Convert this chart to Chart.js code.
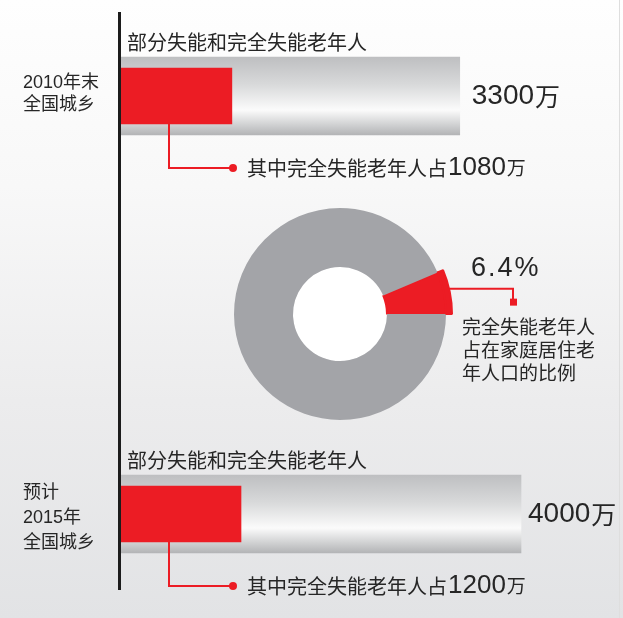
<!DOCTYPE html>
<html>
<head>
<meta charset="utf-8">
<script src="https://cdn.jsdelivr.net/npm/chart.js@4.4.0/dist/chart.umd.min.js"></script>
<style>
html, body { margin: 0; padding: 0; }
body {
    width: 623px; height: 618px; position: relative; overflow: hidden;
    background: linear-gradient(to bottom, #fefefe 0%, #f8f8f8 30%, #ececed 65%, #e2e3e5 100%);
}
canvas { position: absolute; }
#axis { position: absolute; left: 118px; top: 12px; width: 3px; height: 578px; background: #1c1c1c; }
#edge { position: absolute; left: 619px; top: 0; width: 1px; height: 618px; background: #dedede; }
</style>
</head>
<body>
<canvas id="topBars" width="623" height="200" style="left:0;top:0;width:623px;height:200px"></canvas>
<canvas id="ring" width="423" height="250" style="left:200px;top:190px;width:423px;height:250px"></canvas>
<canvas id="bottomBars" width="623" height="188" style="left:0;top:430px;width:623px;height:188px"></canvas>
<div id="axis"></div>
<div id="edge"></div>
<script>
// 单位：万人
var groups = ['2010年末全国城乡', '预计2015年全国城乡'];
var groupLines = [['2010年末', '全国城乡'], ['预计', '2015年', '全国城乡']];
var totalDisabled = [3300, 4000];   // 部分失能和完全失能老年人
var fullyDisabled = [1080, 1200];   // 其中完全失能老年人
var shareLabels = ['完全失能老年人', '其他'];
var shareValues = [6.4, 93.6];      // 占在家庭居住老年人口的比例 (%)

var RED = '#ec1c24';
var INK = '#262626';
var CJK = '"Noto Sans CJK SC", "Noto Sans", sans-serif';
var NUM = '"Liberation Sans", Arial, sans-serif';

function greyFill(ctx) {
    var area = ctx.chart.chartArea;
    if (!area) return '#c8c8c8';
    var mid = (area.top + area.bottom) / 2;
    var g = ctx.chart.ctx.createLinearGradient(0, mid - 39, 0, mid + 39);
    g.addColorStop(0, '#bebfc1');
    g.addColorStop(0.35, '#d8d9da');
    g.addColorStop(0.68, '#fbfbfb');
    g.addColorStop(0.86, '#d2d3d4');
    g.addColorStop(1, '#b3b4b6');
    return g;
}

function runs(c, x, y, parts) {
    parts.forEach(function (p) {
        c.font = p[1];
        c.fillText(p[0], x, y);
        x += c.measureText(p[0]).width + (p[2] || 0);
    });
}

var barNotes = {
    id: 'barNotes',
    afterDatasetsDraw: function (chart, args, o) {
        var c = chart.ctx;
        var i = o.index;
        var grey = chart.getDatasetMeta(0).data[0];
        var red = chart.getDatasetMeta(1).data[0];
        c.save();
        c.fillStyle = INK;
        c.textBaseline = 'middle';

        // title above the bar
        c.font = '20px ' + CJK;
        c.fillText('部分失能和完全失能老年人', 127, grey.y - 54);

        // group label on the left
        c.font = '18px "Liberation Sans", ' + CJK;
        var lines = groupLines[i];
        var y0 = grey.y + o.labelDy - (lines.length - 1) * o.lineH / 2;
        lines.forEach(function (t, k) { c.fillText(t, 23, y0 + k * o.lineH); });

        // total at the end of the grey bar
        runs(c, grey.x + o.valueGap, grey.y, [
            [String(totalDisabled[i]), '28px ' + NUM, 1],
            ['万', '25px ' + CJK]
        ]);

        // red connector from the red bar
        var bx = red.base + 48;
        var by = red.y + red.height / 2;
        var ly = by + 44;
        c.strokeStyle = RED;
        c.lineWidth = 2;
        c.beginPath();
        c.moveTo(bx, by);
        c.lineTo(bx, ly);
        c.lineTo(red.base + 112, ly);
        c.stroke();
        c.fillStyle = RED;
        c.beginPath();
        c.arc(red.base + 112, ly, 4, 0, Math.PI * 2);
        c.fill();

        c.fillStyle = INK;
        runs(c, red.base + 126, ly, [
            ['其中完全失能老年人占', '20px ' + CJK, 1],
            [String(fullyDisabled[i]), '26px ' + NUM, 1],
            ['万', '19px ' + CJK]
        ]);
        c.restore();
    }
};

function barChart(id, i, axisMax, pad, notes) {
    notes.index = i;
    return new Chart(document.getElementById(id), {
        type: 'bar',
        data: {
            labels: [groups[i]],
            datasets: [
                { label: '部分失能和完全失能老年人', data: [totalDisabled[i]], backgroundColor: greyFill,
                  barThickness: 78, grouped: false, order: 2 },
                { label: '完全失能老年人', data: [fullyDisabled[i]], backgroundColor: RED,
                  barThickness: 56, grouped: false, order: 1 }
            ]
        },
        options: {
            indexAxis: 'y',
            responsive: false,
            animation: false,
            events: [],
            layout: { padding: pad },
            scales: {
                x: { display: false, min: 0, max: axisMax },
                y: { display: false }
            },
            plugins: { legend: { display: false }, tooltip: { enabled: false }, barNotes: notes }
        },
        plugins: [barNotes]
    });
}

barChart('topBars', 0, 3400, { left: 121, right: 153, top: 51, bottom: 59 },
    { labelDy: -2, lineH: 22, valueGap: 12 });
barChart('bottomBars', 1, 4200, { left: 121, right: 82, top: 39, bottom: 59 },
    { labelDy: 4, lineH: 25, valueGap: 7 });

var ringNotes = {
    id: 'ringNotes',
    beforeDatasetsDraw: function (chart) {
        var a = chart.getDatasetMeta(1).data[0];
        var c = chart.ctx;
        c.save();
        c.fillStyle = '#ffffff';
        c.beginPath();
        c.arc(a.x, a.y, a.innerRadius, 0, Math.PI * 2);
        c.fill();
        c.restore();
    },
    afterDatasetsDraw: function (chart) {
        var a = chart.getDatasetMeta(0).data[0];
        var c = chart.ctx;
        var mid = (a.startAngle + a.endAngle) / 2;
        var sx = a.x + a.outerRadius * Math.cos(mid);
        var sy = a.y + a.outerRadius * Math.sin(mid) - 3;
        var ex = a.x + 173;
        c.save();
        c.strokeStyle = RED;
        c.lineWidth = 2;
        c.beginPath();
        c.moveTo(sx - 2, sy);
        c.lineTo(ex, sy);
        c.lineTo(ex, sy + 12);
        c.stroke();
        c.fillStyle = RED;
        c.fillRect(ex - 3, sy + 10, 7, 7);

        c.fillStyle = INK;
        c.textBaseline = 'middle';
        c.font = '27px ' + NUM;
        if ('letterSpacing' in c) c.letterSpacing = '2px';
        c.fillText(shareValues[0] + '%', a.x + 131, a.y - 45);
        if ('letterSpacing' in c) c.letterSpacing = '0px';
        c.font = '19px ' + CJK;
        ['完全失能老年人', '占在家庭居住老', '年人口的比例'].forEach(function (t, k) {
            c.fillText(t, a.x + 122, a.y + 13 + k * 23);
        });
        c.restore();
    }
};

new Chart(document.getElementById('ring'), {
    type: 'doughnut',
    data: {
        labels: shareLabels,
        datasets: [
            { data: shareValues, backgroundColor: [RED, 'rgba(0,0,0,0)'], weight: 6,
              borderWidth: [2, 0], borderColor: [RED, 'rgba(0,0,0,0)'] },
            { data: shareValues, backgroundColor: [RED, '#a3a4a8'], weight: 59,
              borderWidth: [2, 0], borderColor: [RED, 'rgba(0,0,0,0)'] }
        ]
    },
    options: {
        responsive: false,
        animation: false,
        events: [],
        cutout: 47,
        rotation: 90 - shareValues[0] * 3.6,
        layout: { padding: { left: 27, top: 11, right: 170, bottom: 13 } },
        plugins: { legend: { display: false }, tooltip: { enabled: false } }
    },
    plugins: [ringNotes]
});
</script>
</body>
</html>
